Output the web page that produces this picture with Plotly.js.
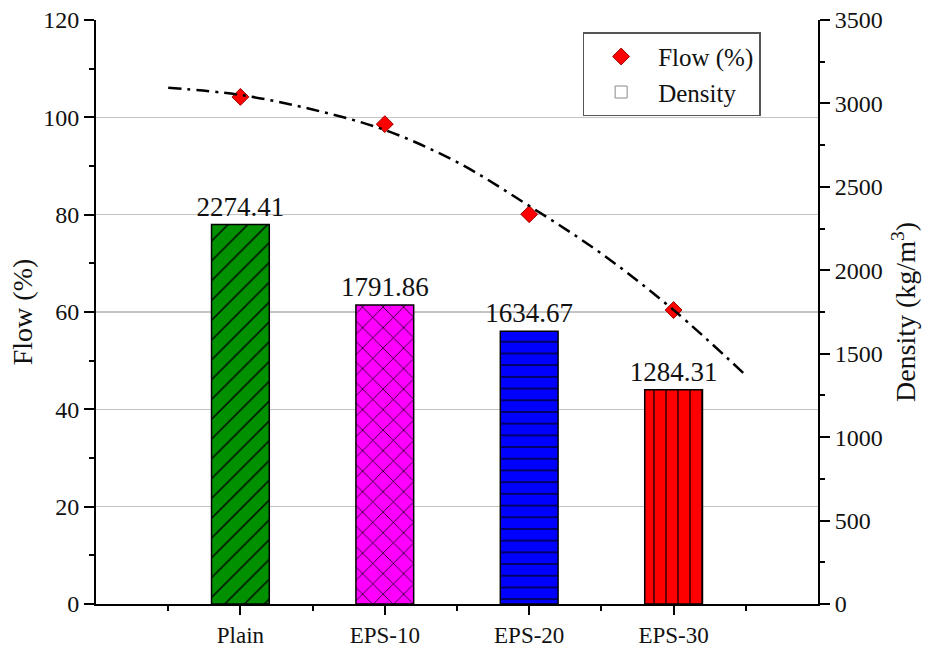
<!DOCTYPE html>
<html>
<head>
<meta charset="utf-8">
<script src="https://cdn.plot.ly/plotly-3.0.1.min.js"></script>
<style>html,body{margin:0;padding:0;background:#fff;}#chart{width:927px;height:648px;}</style>
</head>
<body>
<div id="chart"></div>
<script>
// Categories
const categories = ["Plain", "EPS-10", "EPS-20", "EPS-30"];
const catPos = [0, 1, 2, 3];
// Density (kg/m3) - bars, right axis
const density = [2274.41, 1791.86, 1634.67, 1284.31];
// Flow (%) - markers, left axis
const flow = [104.2, 98.6, 80.1, 60.4];
// Fitted trend curve (dash-dot line)
const fitX = [-0.5, 0, 0.5, 1, 1.5, 2, 2.5, 3, 3.5];
const fitY = [106.1, 104.6, 101.6, 97.4, 90.8, 81.8, 72.0, 60.4, 47.0];
// Bar styling
const barColors = ["#009000", "#ff00ff", "#0000ff", "#ff0000"];
const barShapes = ["/", "x", "-", "|"];
const barSizes = [14, 14.5, 11.7, 12];

const serif = "Liberation Serif";

const traces = [
  {
    type: "scatter", mode: "markers", name: "Flow (%)",
    x: catPos, y: flow, xaxis: "x", yaxis: "y",
    marker: {symbol: "diamond", size: 13, color: "#ff0000", line: {color: "#a00000", width: 1}}
  },
  {
    type: "bar", name: "Density", x: [null], y: [null], xaxis: "x", yaxis: "y",
    marker: {color: "#ffffff", line: {color: "#888888", width: 1}}
  }
];

categories.forEach((c, i) => {
  traces.push({
    type: "bar", name: c, showlegend: false,
    x: [catPos[i]], y: [density[i]], xaxis: "x", yaxis: "y2", width: 0.4,
    text: [density[i].toFixed(2)], texttemplate: "%{text}",
    textposition: "outside", constraintext: "none", cliponaxis: false,
    textfont: {family: serif, size: 27, color: "#111"},
    marker: {
      color: barColors[i],
      line: {color: "#000", width: 1.5},
      pattern: {shape: barShapes[i], fgcolor: "#000000", bgcolor: barColors[i], fgopacity: 1,
                size: barSizes[i], solidity: 0.1, fillmode: "replace"}
    }
  });
});

traces.push({
  type: "scatter", mode: "lines", name: "fit", showlegend: false,
  x: fitX, y: fitY, xaxis: "x", yaxis: "y",
  line: {color: "#000", width: 2.5, dash: "13px,6px,3px,6px", shape: "spline"}
});

const layout = {
  width: 927, height: 648,
  margin: {l: 96, r: 109, t: 20, b: 44},
  paper_bgcolor: "#fff", plot_bgcolor: "#fff",
  barmode: "overlay",
  showlegend: true,
  font: {family: serif, color: "#111"},
  legend: {
    x: 0.674, y: 0.979, xanchor: "left", yanchor: "top",
    bgcolor: "#fff", bordercolor: "#555", borderwidth: 1.5,
    font: {family: serif, size: 25, color: "#111"},
    traceorder: "normal", itemwidth: 64, tracegroupgap: 0
  },
  xaxis: {
    range: [-1, 4], tickmode: "array", tickvals: catPos, ticktext: categories,
    showline: true, linecolor: "#000", linewidth: 2, mirror: false,
    ticks: "outside", ticklen: 9, tickwidth: 2, tickcolor: "#000",
    tickfont: {family: serif, size: 23, color: "#111"},
    showgrid: false, zeroline: false,
    minor: {tickmode: "array", tickvals: [-0.5, 0.5, 1.5, 2.5, 3.5], ticks: "outside", ticklen: 5, tickwidth: 2, tickcolor: "#000", showgrid: false}
  },
  yaxis: {
    range: [0, 120], dtick: 20, tick0: 0,
    showline: true, linecolor: "#000", linewidth: 2,
    ticks: "outside", ticklen: 10, tickwidth: 2, tickcolor: "#000",
    tickfont: {family: serif, size: 24, color: "#111"},
    showgrid: true, gridcolor: "#c4c4c4", gridwidth: 1.2, zeroline: false,
    minor: {dtick: 10, ticks: "outside", ticklen: 5, tickwidth: 2, tickcolor: "#000", showgrid: false},
    title: {text: "Flow (%)", font: {family: serif, size: 28, color: "#111"}, standoff: 2}
  },
  yaxis2: {
    overlaying: "y", side: "right", range: [0, 3500], dtick: 500, tick0: 0,
    showline: true, linecolor: "#000", linewidth: 2,
    ticks: "outside", ticklen: 10, tickwidth: 2, tickcolor: "#000",
    tickfont: {family: serif, size: 24, color: "#111"},
    showgrid: false, zeroline: false,
    minor: {dtick: 250, ticks: "outside", ticklen: 5, tickwidth: 2, tickcolor: "#000", showgrid: false},
    title: {text: "Density (kg/m<sup>3</sup>)", font: {family: serif, size: 28, color: "#111"}, standoff: 14}
  }
};

Plotly.newPlot("chart", traces, layout, {displayModeBar: false, staticPlot: true});
</script>
</body>
</html>
